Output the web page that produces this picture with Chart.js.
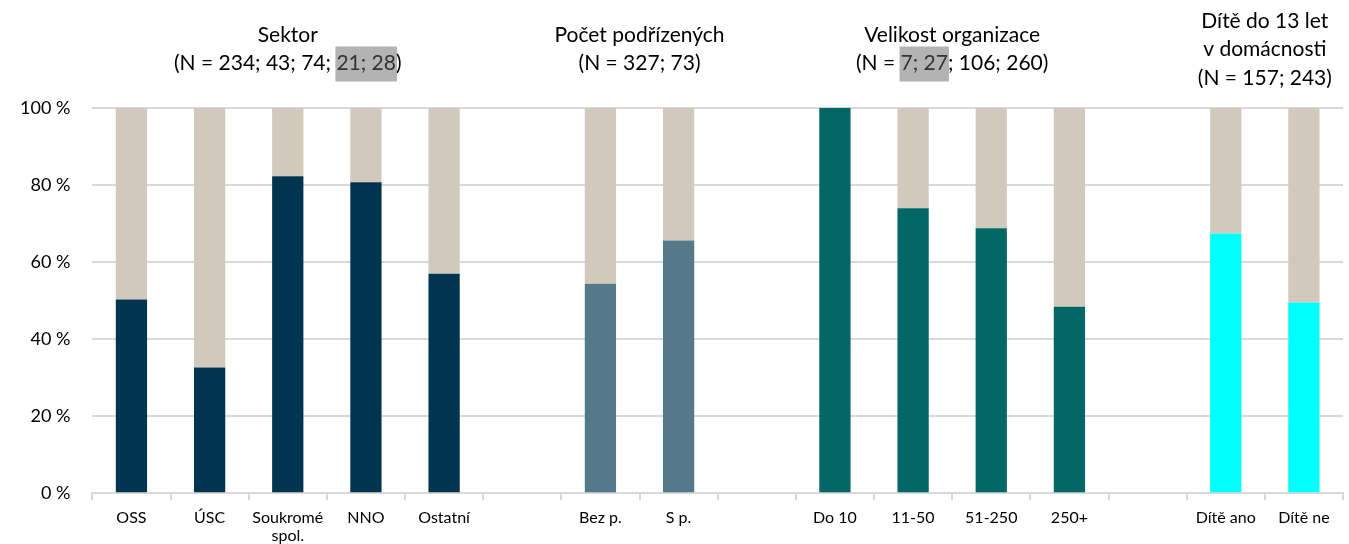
<!DOCTYPE html>
<html>
<head>
<meta charset="utf-8">
<script src="https://cdn.jsdelivr.net/npm/chart.js@4"></script>
<style>
  html, body { margin: 0; padding: 0; background: #fff; }
  #wrap { width: 1349px; height: 544px; position: relative; }
</style>
</head>
<body>
<div id="wrap"><canvas id="chart"></canvas></div>
<script>
// categories (empty strings = gaps between groups)
const categories = [
  "OSS", "ÚSC", ["Soukromé", "spol."], "NNO", "Ostatní", "",
  "Bez p.", "S p.", "",
  "Do 10", "11-50", "51-250", "250+", "",
  "Dítě ano", "Dítě ne"
];

// share in % (null = gap)
const shareValues = [50.3, 32.6, 82.3, 80.7, 57.0, null, 54.4, 65.6, null, 100, 74.0, 68.8, 48.4, null, 67.4, 49.5];

const barColors = [
  "#00344f", "#00344f", "#00344f", "#00344f", "#00344f", null,
  "#56798a", "#56798a", null,
  "#006766", "#006766", "#006766", "#006766", null,
  "#00ffff", "#00ffff"
];
const restColor = "#d1c9bc";

const yTicks = [0, 20, 40, 60, 80, 100];

// group headings: [first index, last index, lines]
const groups = [
  { from: 0, to: 4, lines: [["Sektor"], ["(N = 234; 43; 74; ", { hl: "21; 28" }, ")"]] },
  { from: 6, to: 7, lines: [["Počet podřízených"], ["(N = 327; 73)"]] },
  { from: 9, to: 12, lines: [["Velikost organizace"], ["(N = ", { hl: "7; 27" }, "; 106; 260)"]] },
  { from: 14, to: 15, lines: [["Dítě do 13 let"], ["v domácnosti"], ["(N = 157; 243)"]] }
];

const restValues = shareValues.map(v => (v === null ? null : 100 - v));

const FONT = "Lato, 'Noto Sans', sans-serif";

const headingPlugin = {
  id: "headings",
  afterDraw(chart) {
    const ctx = chart.ctx;
    const x = chart.scales.x;
    ctx.save();
    ctx.font = "21px " + FONT;
    ctx.textBaseline = "middle";
    ctx.textAlign = "left";
    groups.forEach(g => {
      const cx = (x.getPixelForValue(g.from) + x.getPixelForValue(g.to)) / 2;
      const n = g.lines.length;
      const startY = n === 3 ? 21 : 35;
      g.lines.forEach((parts, i) => {
        const y = startY + i * 28.5;
        const widths = parts.map(p => ctx.measureText(typeof p === "string" ? p : p.hl).width);
        const total = widths.reduce((a, b) => a + b, 0);
        let px = cx - total / 2;
        parts.forEach((p, k) => {
          if (typeof p === "string") {
            ctx.fillStyle = "#000";
            ctx.fillText(p, px, y);
          } else {
            ctx.fillStyle = "#b3b3b3";
            ctx.fillRect(px - 1, y - 17, widths[k] + 2, 35);
            ctx.fillStyle = "#333";
            ctx.fillText(p.hl, px, y);
          }
          px += widths[k];
        });
      });
    });
    ctx.restore();
  }
};

new Chart(document.getElementById("chart"), {
  type: "bar",
  data: {
    labels: categories,
    datasets: [
      {
        label: "share",
        data: shareValues,
        backgroundColor: barColors,
        barPercentage: 0.4,
        categoryPercentage: 1.0
      },
      {
        label: "rest",
        data: restValues,
        backgroundColor: restColor,
        barPercentage: 0.4,
        categoryPercentage: 1.0
      }
    ]
  },
  options: {
    responsive: true,
    maintainAspectRatio: false,
    animation: false,
    layout: { padding: { top: 108, right: 6, left: -2, bottom: -9 } },
    plugins: {
      legend: { display: false },
      tooltip: { enabled: false }
    },
    scales: {
      x: {
        stacked: true,
        grid: { display: true, drawOnChartArea: false, drawTicks: true, tickLength: 7, color: "#d9d9d9", lineWidth: 2 },
        border: { color: "#d9d9d9", width: 2 },
        ticks: { color: "#000", font: { family: FONT, size: 16, lineHeight: 1.15 }, maxRotation: 0, autoSkip: false, padding: 8 }
      },
      y: {
        stacked: true,
        min: 0,
        max: 100,
        afterBuildTicks: axis => { axis.ticks = yTicks.map(v => ({ value: v })); },
        grid: { color: "#d9d9d9", lineWidth: 2, drawTicks: false },
        border: { display: false },
        ticks: { color: "#000", font: { family: FONT, size: 18 }, padding: 22, callback: v => v + " %" }
      }
    }
  },
  plugins: [headingPlugin]
});
</script>
</body>
</html>
